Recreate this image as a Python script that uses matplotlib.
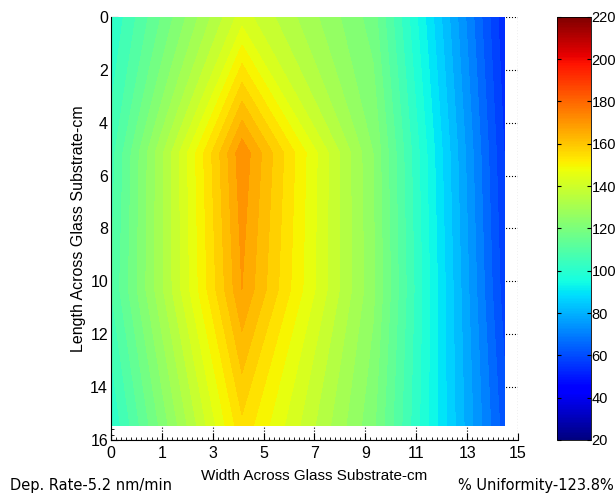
import numpy as np
import matplotlib
matplotlib.use('Agg')
import matplotlib.pyplot as plt
from matplotlib.ticker import MultipleLocator

# grid positions (cm) of the measured points
x_pos = [0, 5.15, 10.3, 15.45]
y_pos = [0, 5.15, 10.3, 15.45]

# measured deposition values, one row per y position
row_0 = [100, 142, 118, 53]
row_1 = [106, 171, 124, 56]
row_2 = [108, 168, 125, 58]
row_3 = [100, 155, 121, 62]

x_ticklabels = ['0', '1', '3', '5', '7', '9', '11', '13', '15']
y_ticks = [0, 2, 4, 6, 8, 10, 12, 14, 16]
cbar_ticks = [20, 40, 60, 80, 100, 120, 140, 160, 180, 200, 220]

Z = np.array([row_0, row_1, row_2, row_3], dtype=float)
X, Y = np.meshgrid(x_pos, y_pos)

plt.rcParams['font.family'] = ['Liberation Sans', 'DejaVu Sans']

fig = plt.figure(figsize=(6.16, 4.96), dpi=100)
ax = fig.add_axes([0.180, 0.113, 0.661, 0.853])
cax = fig.add_axes([0.904, 0.113, 0.055, 0.853])

levels = np.arange(20, 224, 4)
cs = ax.contourf(X, Y, Z, levels=levels, cmap='jet', vmin=20, vmax=220)

ax.set_xlim(0, 16)
ax.set_ylim(16, 0)
ax.set_xticks(y_ticks)
ax.set_xticklabels(x_ticklabels)
ax.set_yticks(y_ticks)
ax.xaxis.set_minor_locator(MultipleLocator(0.2))
ax.yaxis.set_minor_locator(MultipleLocator(0.2))
ax.tick_params(which='both', direction='in', labelsize=11.5)
ax.tick_params(which='major', length=5)
ax.tick_params(which='minor', length=2.5)
ax.tick_params(axis='y', pad=2)
ax.tick_params(axis='x', pad=4)
ax.set_axisbelow(True)
ax.grid(True, linestyle=':', color='k', linewidth=0.8)
for side in ['top', 'right']:
    ax.spines[side].set_visible(False)

ax.set_xlabel('Width Across Glass Substrate-cm', fontsize=11, labelpad=6)
ax.set_ylabel('Length Across Glass Substrate-cm', fontsize=11.5, labelpad=3)

sm = matplotlib.cm.ScalarMappable(norm=matplotlib.colors.Normalize(20, 220), cmap='jet')
cb = fig.colorbar(sm, cax=cax, ticks=cbar_ticks)
cb.outline.set_linewidth(0.6)
cax.tick_params(direction='in', left=True, right=True, length=3, labelsize=10.5, pad=0.5)

fig.text(0.016, 0.022, 'Dep. Rate-5.2 nm/min', fontsize=10.5, family='DejaVu Sans', ha='left', va='center')
fig.text(0.996, 0.022, '% Uniformity-123.8%', fontsize=10.5, family='DejaVu Sans', ha='right', va='center')

fig.savefig('out.png', dpi=100)
